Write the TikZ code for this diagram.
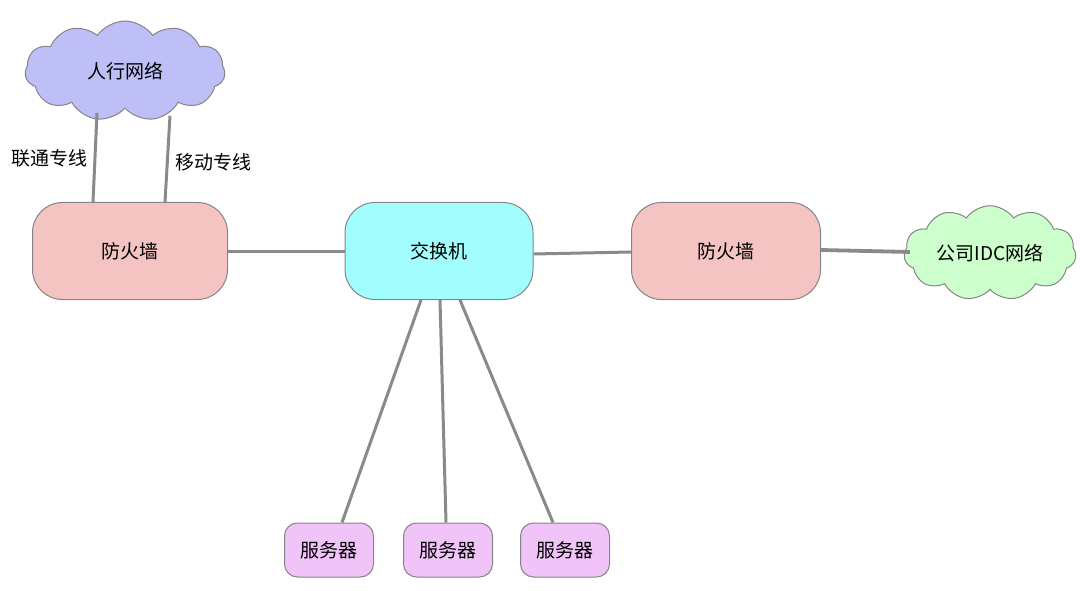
\documentclass[tikz,border=0pt]{standalone}
\usepackage{fontspec}
\setmainfont{Noto Sans CJK SC}
\usetikzlibrary{shapes.symbols}
\definecolor{cloudA}{HTML}{BFBFF8}
\definecolor{cloudB}{HTML}{CCFFCC}
\definecolor{fwfill}{HTML}{F4C4C2}
\definecolor{swfill}{HTML}{A2FEFE}
\definecolor{srvfill}{HTML}{F0C4F8}
\definecolor{edge}{HTML}{858585}
\definecolor{link}{HTML}{8A8A8A}
\begin{document}
\begin{tikzpicture}[x=1pt,y=-1pt,
  every node/.style={font=\fontsize{19}{22}\selectfont},
  netcloud/.style={cloud, cloud puffs=11, cloud puff arc=110, aspect=2, draw=edge, line width=1pt, inner sep=0pt},
  bigbox/.style={draw=edge, line width=1pt, rounded corners=30, minimum width=#1, minimum height=97},
  srvbox/.style={draw=edge, line width=1pt, rounded corners=13, fill=srvfill, minimum width=89, minimum height=54},
  wire/.style={draw=link, line width=3pt},
  lbl/.style={font=\fontsize{19}{22}\selectfont}
]
\useasboundingbox (0,0) rectangle (1080,591);
\node[netcloud, fill=cloudA, minimum width=200, minimum height=100] (c1) at (125,71) {人行网络};
\node[netcloud, fill=cloudB, minimum width=172, minimum height=90] (c2) at (990,253) {公司IDC网络};
\node[bigbox=195, fill=fwfill] (fw1) at (130,251) {防火墙};
\node[bigbox=188, fill=swfill] (sw) at (439,251) {交换机};
\node[bigbox=189, fill=fwfill] (fw2) at (726,251) {防火墙};
\node[srvbox] (s1) at (329,550) {服务器};
\node[srvbox] (s2) at (448,550) {服务器};
\node[srvbox] (s3) at (565,550) {服务器};
\node[lbl] (l1) at (50,158) {联通专线};
\node[lbl] (l2) at (213,162) {移动专线};
\draw[wire] ([xshift=-28,yshift=-4]c1.south) -- ([xshift=-37]fw1.north);
\draw[wire] ([xshift=45,yshift=-7]c1.south) -- ([xshift=35]fw1.north);
\draw[wire] (fw1.east) -- (sw.west);
\draw[wire] ([yshift=-3]sw.east) -- ([yshift=-1]fw2.west);
\draw[draw=link, line width=3.8pt] ([yshift=1]fw2.east) -- ([xshift=6,yshift=1]c2.west);
\draw[wire] ([xshift=-18]sw.south) -- ([xshift=13]s1.north);
\draw[wire] ([xshift=1]sw.south) -- ([xshift=-2]s2.north);
\draw[wire] ([xshift=21]sw.south) -- ([xshift=-12]s3.north);
\end{tikzpicture}
\end{document}
